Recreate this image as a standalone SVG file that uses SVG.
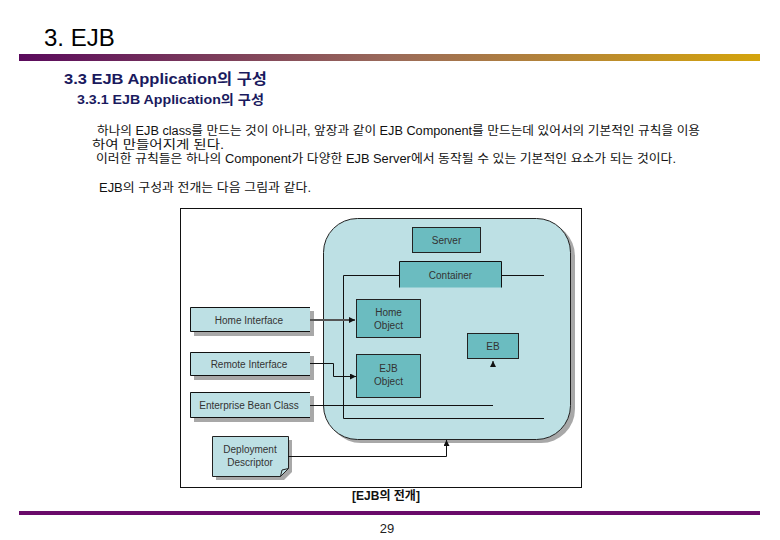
<svg xmlns="http://www.w3.org/2000/svg" width="780" height="540" viewBox="0 0 780 540">
<defs>
<linearGradient id="bar" x1="0" y1="0" x2="1" y2="0">
<stop offset="0" stop-color="#5a0a5c"/>
<stop offset="0.5" stop-color="#9a6a5a"/>
<stop offset="1" stop-color="#d4a40c"/>
</linearGradient>
<marker id="ah" viewBox="0 0 6 6" refX="6" refY="3" markerWidth="6" markerHeight="6" orient="auto" markerUnits="userSpaceOnUse">
<path d="M0,0 L6,3 L0,6 z" fill="#111"/>
</marker>
<style>
.t{font-family:"Liberation Sans",Arial,"Noto Sans CJK KR",sans-serif;}
.h{fill:#1a1a5e;font-weight:bold;}
.body{font-size:12px;fill:#111;}
.lbl{font-size:10px;fill:#333;text-anchor:middle;}
.lb{fill:#bde0e4;}
.tb{fill:#6bbcc0;stroke:#222;stroke-width:1;}
.sh{fill:#a8a8a8;}
.ln{fill:none;stroke:#111;stroke-width:1;}
</style>
</defs>

<text class="t" x="44" y="46" font-size="24" fill="#000">3. EJB</text>
<rect x="19" y="54" width="741" height="7" fill="url(#bar)"/>
<text class="t h" x="64" y="84" font-size="15" textLength="203" lengthAdjust="spacingAndGlyphs">3.3 EJB Application의 구성</text>
<text class="t h" x="77" y="104" font-size="13" textLength="187" lengthAdjust="spacingAndGlyphs">3.3.1 EJB Application의 구성</text>

<text class="t body" x="97" y="135" textLength="603" lengthAdjust="spacingAndGlyphs">하나의 EJB class를 만드는 것이 아니라, 앞장과 같이 EJB Component를 만드는데 있어서의 기본적인 규칙을 이용</text>
<text class="t body" x="92" y="149" textLength="132" lengthAdjust="spacingAndGlyphs">하여 만들어지게 된다.</text>
<text class="t body" x="96" y="163" textLength="580" lengthAdjust="spacingAndGlyphs">이러한 규칙들은 하나의 Component가 다양한 EJB Server에서 동작될 수 있는 기본적인 요소가 되는 것이다.</text>
<text class="t body" x="99" y="192" textLength="212" lengthAdjust="spacingAndGlyphs">EJB의 구성과 전개는 다음 그림과 같다.</text>

<rect x="180.5" y="208.5" width="401" height="279" fill="#fff" stroke="#111" stroke-width="1"/>

<g id="server-area">
<rect x="327" y="222" width="248" height="221" rx="34" class="sh"/>
<rect x="323.5" y="218.5" width="247" height="221" rx="34" class="lb" stroke="#222" stroke-width="1"/>
</g>

<g id="server">
<rect x="412.5" y="227.5" width="68" height="25" class="tb"/>
<text class="t lbl" x="446.5" y="244">Server</text>
</g>

<g id="container">
<rect x="399.5" y="261.5" width="102" height="26" fill="#6bbcc0"/>
<path d="M399.5,287.5 V261.5 H501.5 V287.5" class="ln" stroke="#222"/>
<text class="t lbl" x="450.5" y="279">Container</text>
</g>

<g id="home-object">
<rect x="356.5" y="299.5" width="64" height="38" class="tb"/>
<text class="t lbl" x="388.5" y="316">Home</text>
<text class="t lbl" x="388.5" y="329">Object</text>
</g>

<g id="ejb-object">
<rect x="356.5" y="354.5" width="64" height="43" class="tb"/>
<text class="t lbl" x="388.5" y="372">EJB</text>
<text class="t lbl" x="388.5" y="385">Object</text>
</g>

<g id="eb">
<rect x="467.5" y="333.5" width="51" height="25" class="tb"/>
<text class="t lbl" x="493" y="350">EB</text>
</g>

<g id="home-interface">
<rect x="194" y="311" width="120" height="25" class="sh"/>
<rect x="190" y="307" width="120" height="25" class="lb"/>
<path d="M310,307.5 H190.5 V331.5 H310" class="ln" stroke="#222"/>
<text class="t lbl" x="249" y="324">Home Interface</text>
</g>

<g id="remote-interface">
<rect x="194" y="356" width="120" height="24" class="sh"/>
<rect x="190" y="352" width="120" height="24" class="lb"/>
<path d="M310,352.5 H190.5 V375.5 H310" class="ln" stroke="#222"/>
<text class="t lbl" x="249" y="368">Remote Interface</text>
</g>

<g id="enterprise-bean-class">
<rect x="194" y="396" width="120" height="26" class="sh"/>
<rect x="190" y="392" width="120" height="26" class="lb"/>
<path d="M310,392.5 H190.5 V417.5 H310" class="ln" stroke="#222"/>
<text class="t lbl" x="249" y="409">Enterprise Bean Class</text>
</g>

<g id="deployment-descriptor">
<path d="M216,440 H292 V472 L284,480 H216 z" class="sh"/>
<path d="M212.5,436.5 H288.5 V468.5 L280.5,476.5 H212.5 z" fill="#bde0e4" stroke="#222" stroke-width="1"/>
<path d="M280.5,476.5 L282,470 L288.5,468.5" fill="none" stroke="#222" stroke-width="1"/>
<text class="t lbl" x="250" y="453">Deployment</text>
<text class="t lbl" x="250" y="466">Descriptor</text>
</g>

<g id="connectors">
<path d="M399,275.5 H343.5 V418.5 H544" class="ln"/>
<path d="M502,275.5 H544" class="ln"/>
<path d="M310,320 H355" fill="none" stroke="#555" stroke-width="2" marker-end="url(#ah)"/>
<path d="M310,363.5 H333.5 V376.5 H356" class="ln" marker-end="url(#ah)"/>
<path d="M310,405.5 H493" class="ln"/>
<path d="M493,366 V361" class="ln" marker-end="url(#ah)"/>
<path d="M288,456.5 H446.5 V440" class="ln" marker-end="url(#ah)"/>
</g>

<text class="t" x="386" y="500" font-size="12" font-weight="bold" text-anchor="middle" fill="#111">[EJB의 전개]</text>
<rect x="19" y="511" width="741" height="4" fill="#6a0a6a"/>
<text class="t" x="387" y="533" font-size="13" text-anchor="middle" fill="#222">29</text>
</svg>
